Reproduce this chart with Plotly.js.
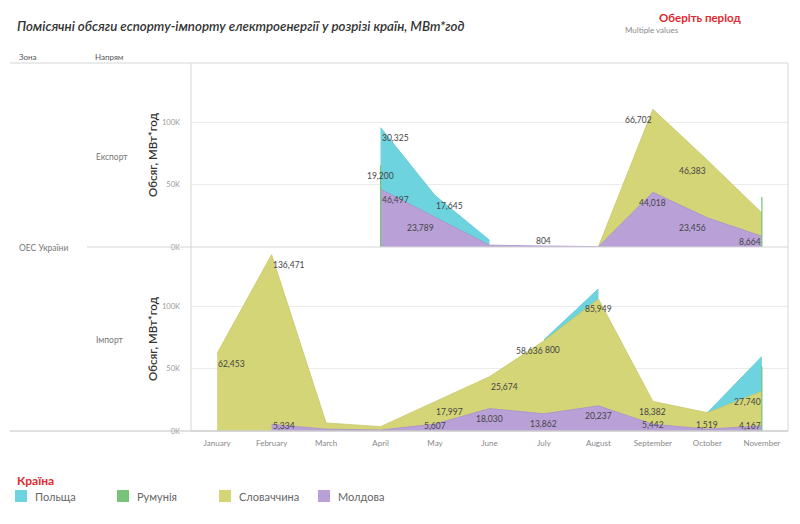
<!DOCTYPE html>
<html><head><meta charset="utf-8">
<script src="https://cdn.plot.ly/plotly-3.0.1.min.js"></script>
<style>html,body{margin:0;padding:0;background:#fff;}#chart{width:800px;height:524px;}</style>
</head><body><div id="chart"></div>
<script>
// ---------- DATA ----------
const months = ['January','February','March','April','May','June','July','August','September','October','November'];
const countries = ['Польща','Румунія','Словаччина','Молдова'];
const yTicks = [0, 50000, 100000];
const yTickText = ['0K','50K','100K'];

// Експорт (export), MWh
const exportPoland   = [null,null,null,30325,17645,4000,null,null,null,null,null];
const exportRomania  = [null,null,null,19200,null,null,null,null,null,null,12900];
const exportSlovakia = [null,null,null,null,null,null,null,0,66702,46383,18700];
const exportMoldova  = [null,null,null,46497,23789,1500,804,300,44018,23456,8664];

// Імпорт (import), MWh
const importPoland   = [null,null,null,null,null,null,800,8300,null,0,8000];
const importRomania  = [null,null,null,null,null,null,null,null,null,null,20000];
const importSlovakia = [62453,136471,5000,2700,17997,25674,58636,85949,18382,13200,27740];
const importMoldova  = [null,5334,1500,800,5607,18030,13862,20237,5442,1519,4167];

// labels shown on the chart: [country, month index]
const exportLabels = [['Польща',3],['Румунія',3],['Молдова',3],['Молдова',4],['Польща',4],['Молдова',6],
  ['Словаччина',8],['Молдова',8],['Словаччина',9],['Молдова',9],['Молдова',10]];
const importLabels = [['Словаччина',0],['Словаччина',1],['Молдова',1],['Молдова',4],['Словаччина',4],
  ['Молдова',5],['Словаччина',5],['Словаччина',6],['Польща',6],['Молдова',6],['Словаччина',7],['Молдова',7],
  ['Словаччина',8],['Молдова',8],['Молдова',9],['Словаччина',10],['Молдова',10]];
// ---------- STYLE ----------
const colors = {'Польща':'#6dd3df','Румунія':'#79c279','Словаччина':'#d4d577','Молдова':'#b9a1d8'};
const lineColors = {'Польща':'#5cc6d3','Румунія':'#5fb55f','Словаччина':'#c5c668','Молдова':'#a890cc'};
const labelAnchor = {'Польща':'left','Румунія':'center','Словаччина':'left','Молдова':'left'};
const anchorOverride = {'e-Молдова-4':'right','e-Молдова-6':'center','e-Словаччина-8':'right','e-Молдова-8':'center',
  'e-Словаччина-9':'right','e-Молдова-9':'right','e-Молдова-10':'right',
  'i-Молдова-4':'center','i-Молдова-5':'center','i-Словаччина-6':'right','i-Молдова-6':'center',
  'i-Словаччина-7':'center','i-Молдова-7':'center','i-Словаччина-8':'center','i-Молдова-8':'center',
  'i-Молдова-9':'center','i-Словаччина-10':'right','i-Молдова-10':'right'};
const FONT = 'Lato, "Open Sans", sans-serif';
const W = 800, H = 524;
const PLOT = {x0:191, x1:788, yTop:63, yMid:247, yBot:431};
const YMAX = 148000;
const px = x => x / W, py = y => 1 - y / H;

const n = v => (v == null ? 0 : v);
function panelData(P, R, S, M) {
  const tops = {'Молдова':[], 'Словаччина':[], 'Румунія':[], 'Польща':[]};
  const vals = {'Польща':P,'Румунія':R,'Словаччина':S,'Молдова':M};
  months.forEach((_, i) => {
    const m = n(M[i]), s = m + n(S[i]), r = s + n(R[i]), p = r + n(P[i]);
    tops['Молдова'].push(m); tops['Словаччина'].push(s); tops['Румунія'].push(r); tops['Польща'].push(p);
  });
  return {tops, vals};
}
function segments(arr) {
  const segs = []; let cur = null;
  arr.forEach((v, i) => {
    if (v == null) { cur = null; return; }
    if (!cur) { cur = []; segs.push(cur); }
    cur.push(i);
  });
  return segs;
}
const traces = [];
const annotations = [];
function buildPanel(d, yaxis, key, labels, pxPerUnit) {
  // areas drawn back to front: cumulative tops, each filled to zero
  ['Польща','Словаччина','Молдова'].forEach(c => {
    segments(d.vals[c]).forEach(seg => {
      traces.push({x: seg.map(i => months[i]), y: seg.map(i => d.tops[c][i]), xaxis:'x', yaxis,
        type:'scatter', mode:'lines', fill:'tozeroy', fillcolor: colors[c],
        line:{color: lineColors[c], width:0.8}, hoverinfo:'skip', showlegend:false});
    });
  });
  // single-month series drawn as vertical lines
  d.vals['Румунія'].forEach((v, i) => {
    if (v == null) return;
    traces.push({x:[months[i], months[i]], y:[0, d.tops['Румунія'][i]], xaxis:'x', yaxis,
      type:'scatter', mode:'lines', line:{color: colors['Румунія'], width:1.2}, hoverinfo:'skip', showlegend:false});
  });
  labels.forEach(([c, i]) => {
    const top = d.tops[c][i];
    const h = top * pxPerUnit;
    const shift = -Math.min(10.5, h - 5.5);
    annotations.push({x: months[i], y: top, xref:'x', yref: yaxis, showarrow:false,
      text: d.vals[c][i].toLocaleString('en-US'), xanchor: anchorOverride[key+'-'+c+'-'+i] || labelAnchor[c],
      yanchor:'middle', yshift: shift, font:{family:FONT, size:8.5, color:'#444'}, borderpad:0});
  });
}
const ppuE = (PLOT.yMid - PLOT.yTop) / YMAX;
const ppuI = (PLOT.yBot - PLOT.yMid) / YMAX;
buildPanel(panelData(exportPoland, exportRomania, exportSlovakia, exportMoldova), 'y', 'e', exportLabels, ppuE);
buildPanel(panelData(importPoland, importRomania, importSlovakia, importMoldova), 'y2', 'i', importLabels, ppuI);

// ---------- text / decoration ----------
function txt(text, x, y, opts) {
  annotations.push(Object.assign({text, x: px(x), y: py(y), xref:'paper', yref:'paper', showarrow:false,
    xanchor:'left', yanchor:'middle', font:{family:FONT, size:8, color:'#666'}}, opts || {}));
}
txt('Оберіть період', 700, 17, {xanchor:'center', font:{family:FONT, size:11.5, color:'#e0282e', weight:700}});
txt('Multiple values', 623, 30, {font:{family:FONT, size:8, color:'#8a8a8a'}});
txt('Зона', 17, 57, {font:{family:FONT, size:8, color:'#555'}});
txt('Напрям', 93, 57, {font:{family:FONT, size:8, color:'#555'}});
txt('Експорт', 94, 157, {font:{family:FONT, size:8.5, color:'#777'}});
txt('Імпорт', 94, 340, {font:{family:FONT, size:8.5, color:'#777'}});
txt('ОЕС України', 17, 248, {font:{family:FONT, size:8.5, color:'#777'}});
['Обсяг, МВт*год'].forEach(t => {
  txt(t, 152, 155, {xanchor:'center', textangle:-90, font:{family:FONT, size:11.5, color:'#333', weight:600}});
  txt(t, 152, 339, {xanchor:'center', textangle:-90, font:{family:FONT, size:11.5, color:'#333', weight:600}});
});
txt('Країна', 15, 480, {font:{family:FONT, size:12, color:'#e0282e', weight:700}});
const legendX = [15, 117, 219, 318];
const shapes = [];
countries.forEach((c, k) => {
  shapes.push({type:'rect', xref:'paper', yref:'paper', x0:px(legendX[k]), x1:px(legendX[k]+12), y0:py(502), y1:py(490),
    fillcolor: colors[c], line:{width:0}});
  txt(c, legendX[k] + 18, 496, {font:{family:FONT, size:11, color:'#666'}});
});
const lineStyle = {color:'#d6d6d6', width:1};
shapes.push({type:'rect', xref:'paper', yref:'paper', x0:px(PLOT.x0), x1:px(PLOT.x1), y0:py(PLOT.yBot), y1:py(PLOT.yTop), line:lineStyle});
shapes.push({type:'line', xref:'paper', yref:'paper', x0:px(87), x1:px(PLOT.x1), y0:py(PLOT.yMid), y1:py(PLOT.yMid), line:lineStyle});
shapes.push({type:'line', xref:'paper', yref:'paper', x0:px(10), x1:px(PLOT.x0), y0:py(PLOT.yTop), y1:py(PLOT.yTop), line:lineStyle});
shapes.push({type:'line', xref:'paper', yref:'paper', x0:px(10), x1:px(PLOT.x1), y0:py(PLOT.yBot), y1:py(PLOT.yBot), line:{color:'#c4c4c4', width:1}});

const yBase = {range:[0, YMAX], tickvals:yTicks, ticktext:yTickText, showgrid:true, gridcolor:'#ebebeb', gridwidth:1,
  zeroline:false, showline:false, ticks:'', ticklabelstandoff:10, tickfont:{family:FONT, size:7.5, color:'#999'}, fixedrange:true};
const layout = {
  width:W, height:H, margin:{l:0, r:0, t:0, b:0}, paper_bgcolor:'#fff', plot_bgcolor:'rgba(0,0,0,0)',
  title:{text:'Помісячні обсяги еспорту-імпорту електроенергії у розрізі країн, МВт*год', x:px(17), xanchor:'left',
    y:py(26), yanchor:'middle', xref:'paper', yref:'paper', font:{family:FONT, size:13.3, color:'#333', style:'italic', weight:600}},
  xaxis:{type:'category', categoryorder:'array', categoryarray:months, range:[-0.48, 10.48], domain:[px(PLOT.x0), px(PLOT.x1)],
    anchor:'y2', showgrid:false, zeroline:false, showline:false, ticks:'', ticklabelstandoff:6,
    tickfont:{family:FONT, size:8, color:'#888'}, fixedrange:true},
  yaxis:Object.assign({domain:[py(PLOT.yMid), py(PLOT.yTop)], anchor:'x'}, yBase),
  yaxis2:Object.assign({domain:[py(PLOT.yBot), py(PLOT.yMid)], anchor:'x'}, yBase),
  shapes, annotations, showlegend:false
};
Plotly.newPlot('chart', traces, layout, {displayModeBar:false, staticPlot:true});
</script></body></html>
